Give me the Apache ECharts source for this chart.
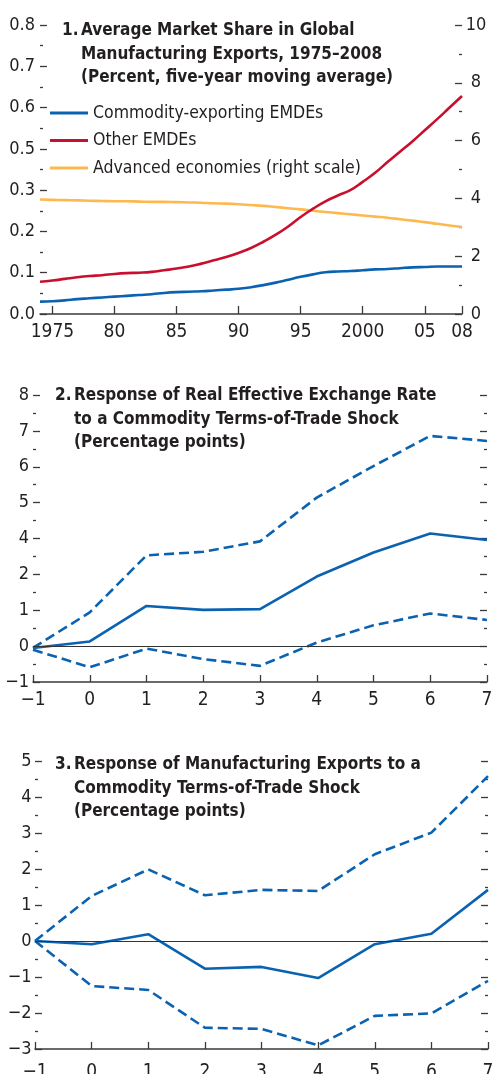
<!DOCTYPE html>
<html>
<head>
<meta charset="utf-8">
<script src="https://cdn.jsdelivr.net/npm/echarts@6/dist/echarts.min.js"></script>
<style>
  html, body { margin: 0; padding: 0; background: #fff; }
  #main { width: 492px; height: 1074px; }
</style>
</head>
<body>
<div id="main"></div>
<script>
// panel 1: market shares, 1974-2008
var years = [1974, 1975, 1976, 1977, 1978, 1979, 1980, 1981, 1982, 1983, 1984, 1985,
  1986, 1987, 1988, 1989, 1990, 1991, 1992, 1993, 1994, 1995, 1996, 1997, 1998, 1999,
  2000, 2001, 2002, 2003, 2004, 2005, 2006, 2007, 2008];
var commodityEMDEs = [0.030, 0.031, 0.033, 0.036, 0.038, 0.040, 0.042, 0.044, 0.046, 0.048,
  0.051, 0.053, 0.054, 0.055, 0.057, 0.059, 0.061, 0.065, 0.070, 0.076, 0.083, 0.090,
  0.096, 0.101, 0.103, 0.104, 0.106, 0.108, 0.109, 0.111, 0.113, 0.114, 0.115, 0.115, 0.115];
var otherEMDEs = [0.078, 0.081, 0.085, 0.089, 0.092, 0.094, 0.097, 0.099, 0.100, 0.102,
  0.106, 0.110, 0.115, 0.122, 0.130, 0.138, 0.148, 0.160, 0.175, 0.192, 0.212, 0.235,
  0.255, 0.273, 0.287, 0.300, 0.320, 0.342, 0.368, 0.393, 0.418, 0.445, 0.472, 0.500, 0.528];
var advancedEcon = [3.96, 3.95, 3.94, 3.93, 3.92, 3.91, 3.90, 3.90, 3.89, 3.88, 3.88, 3.87,
  3.86, 3.85, 3.83, 3.82, 3.80, 3.77, 3.74, 3.70, 3.66, 3.62, 3.57, 3.53, 3.49, 3.45,
  3.41, 3.37, 3.33, 3.28, 3.23, 3.18, 3.12, 3.06, 3.01];
var yearTicks = [1975, 1980, 1985, 1990, 1995, 2000, 2005, 2008];
var yearTickLabels = ['1975', '80', '85', '90', '95', '2000', '05', '08'];
var shareTickLabels = ['0.0', '0.1', '0.2', '0.3', '0.5', '0.6', '0.7', '0.8'];

// panels 2 and 3: impulse responses
var horizon = [-1, 0, 1, 2, 3, 4, 5, 6, 7];
var reerMid = [-0.05, 0.13, 1.12, 1.01, 1.03, 1.94, 2.61, 3.14, 2.96];
var reerUpper = [-0.05, 0.94, 2.53, 2.63, 2.92, 4.14, 5.02, 5.86, 5.72];
var reerLower = [-0.10, -0.59, -0.07, -0.36, -0.55, 0.10, 0.58, 0.91, 0.73];
var reerTickLabels = ['\u22121', '0', '1', '2', '4', '5', '6', '7', '8'];
var mfgMid = [0, -0.09, 0.19, -0.77, -0.72, -1.03, -0.09, 0.20, 1.42];
var mfgUpper = [0, 1.25, 1.99, 1.27, 1.42, 1.39, 2.41, 3.01, 4.58];
var mfgLower = [0, -1.25, -1.36, -2.41, -2.44, -2.90, -2.08, -2.01, -1.11];

var FONT = "'DejaVu Sans Condensed', 'Liberation Sans', sans-serif";
var INK = '#231f20';
var AXIS = '#3a3a3a';
var BLUE = '#0b62b0';
var RED = '#c8102e';
var GOLD = '#fdb850';

function pairs(xs, ys) {
  return xs.map(function (x, i) { return [x, ys[i]]; });
}
function minus(v) {
  return String(v).replace('-', '\u2212');
}

var myChart = echarts.init(document.getElementById('main'));

function majorTick(len) {
  return { show: true, inside: true, length: len, lineStyle: { color: AXIS, width: 1.3 } };
}
function minorTick() {
  return { show: true, splitNumber: 2, length: 3, lineStyle: { color: AXIS, width: 1.3 } };
}
// y axes keep an invisible line so they don't jump to x = 0
function hiddenLine() {
  return { show: true, onZero: false, lineStyle: { color: 'rgba(0,0,0,0)' } };
}

function leftAxis(grid, min, max, labels, margin) {
  return {
    type: 'value', gridIndex: grid, min: min, max: max, interval: 1,
    axisLine: hiddenLine(),
    axisTick: majorTick(7),
    minorTick: minorTick(),
    splitLine: { show: false },
    axisLabel: {
      margin: margin, color: INK, fontFamily: FONT, fontSize: 18,
      formatter: function (v) {
        return labels ? labels[Math.round(v - min)] : minus(v);
      }
    }
  };
}
function rightAxis(grid, min, max) {
  return {
    type: 'value', gridIndex: grid, position: 'right', min: min, max: max, interval: 1,
    axisLine: hiddenLine(),
    axisTick: majorTick(7),
    minorTick: minorTick(),
    splitLine: { show: false },
    axisLabel: { show: false }
  };
}
function horizonAxis(grid, margin) {
  return {
    type: 'value', gridIndex: grid, min: -1, max: 7, interval: 1,
    axisLine: { show: true, onZero: false, lineStyle: { color: AXIS, width: 1.5 } },
    axisTick: majorTick(7),
    splitLine: { show: false },
    axisLabel: {
      margin: margin, color: INK, fontFamily: FONT, fontSize: 19,
      formatter: function (v) { return minus(v); }
    }
  };
}
function band(name, grid, ys, dashed) {
  return {
    name: name, type: 'line', xAxisIndex: grid, yAxisIndex: grid === 1 ? 2 : 4,
    data: pairs(horizon, ys), symbol: 'none', smooth: false,
    lineStyle: { color: BLUE, width: 2.6, type: dashed ? [10, 5] : 'solid' }
  };
}
function zeroLine() {
  return {
    silent: true, symbol: 'none', label: { show: false },
    lineStyle: { color: '#333', width: 1, type: 'solid' },
    data: [{ yAxis: 0 }]
  };
}

function titleBlock(num, lines, numLeft, left, top) {
  var st = { color: INK, fontFamily: FONT, fontSize: 17, fontWeight: 'bold', lineHeight: 23.5 };
  return [
    { text: num, left: numLeft, top: top, padding: 0, textStyle: st },
    { text: lines.join('\n'), left: left, top: top, padding: 0, textStyle: st }
  ];
}

var option = {
  animation: false,
  backgroundColor: '#fff',
  title: [].concat(
    titleBlock('1.', ['Average Market Share in Global', 'Manufacturing Exports, 1975\u20132008',
      '(Percent, five-year moving average)'], 62, 81, 19),
    titleBlock('2.', ['Response of Real Effective Exchange Rate', 'to a Commodity Terms-of-Trade Shock',
      '(Percentage points)'], 55, 74, 384),
    titleBlock('3.', ['Response of Manufacturing Exports to a', 'Commodity Terms-of-Trade Shock',
      '(Percentage points)'], 55, 74, 753)
  ),
  legend: {
    data: ['Commodity-exporting EMDEs', 'Other EMDEs', 'Advanced economies (right scale)'],
    orient: 'vertical', left: 50, top: 102, padding: 0,
    icon: 'rect', itemWidth: 38, itemHeight: 3, itemGap: 5.5,
    textStyle: { color: INK, fontFamily: FONT, fontSize: 17.5, lineHeight: 22 }
  },
  grid: [
    { left: 40, top: 25, width: 422, height: 289, outerBoundsMode: 'none' },
    { left: 33, top: 395, width: 454, height: 287, outerBoundsMode: 'none' },
    { left: 35, top: 761, width: 453, height: 288, outerBoundsMode: 'none' }
  ],
  xAxis: [
    {
      type: 'value', gridIndex: 0, min: 1974, max: 2008,
      axisLine: { show: true, onZero: false, lineStyle: { color: AXIS, width: 1.5 } },
      axisTick: Object.assign(majorTick(8), { customValues: yearTicks }),
      splitLine: { show: false },
      axisLabel: {
        margin: 9, color: INK, fontFamily: FONT, fontSize: 19, customValues: yearTicks,
        formatter: function (v) { return yearTickLabels[yearTicks.indexOf(v)]; }
      }
    },
    horizonAxis(1, 9),
    horizonAxis(2, 14)
  ],
  yAxis: [
    {
      type: 'value', gridIndex: 0, min: 0, max: 0.7, interval: 0.1,
      axisLine: hiddenLine(),
      axisTick: majorTick(7),
      minorTick: minorTick(),
      splitLine: { show: false },
      axisLabel: {
        margin: 5, color: INK, fontFamily: FONT, fontSize: 18,
        formatter: function (v) { return shareTickLabels[Math.round(v * 10)]; }
      }
    },
    {
      type: 'value', gridIndex: 0, position: 'right', min: 0, max: 10, interval: 2,
      axisLine: hiddenLine(),
      axisTick: majorTick(7),
      minorTick: minorTick(),
      splitLine: { show: false },
      axisLabel: { margin: 14, align: 'center', color: INK, fontFamily: FONT, fontSize: 18 }
    },
    leftAxis(1, -1, 7, reerTickLabels, 4),
    rightAxis(1, -1, 7),
    leftAxis(2, -3, 5, null, 3.5),
    rightAxis(2, -3, 5)
  ],
  series: [
    {
      name: 'Advanced economies (right scale)', type: 'line', xAxisIndex: 0, yAxisIndex: 1,
      data: pairs(years, advancedEcon), symbol: 'none', smooth: true,
      itemStyle: { color: GOLD }, lineStyle: { color: GOLD, width: 2.6 }
    },
    {
      name: 'Commodity-exporting EMDEs', type: 'line', xAxisIndex: 0, yAxisIndex: 0,
      data: pairs(years, commodityEMDEs), symbol: 'none', smooth: true,
      itemStyle: { color: BLUE }, lineStyle: { color: BLUE, width: 2.6 }
    },
    {
      name: 'Other EMDEs', type: 'line', xAxisIndex: 0, yAxisIndex: 0,
      data: pairs(years, otherEMDEs), symbol: 'none', smooth: true,
      itemStyle: { color: RED }, lineStyle: { color: RED, width: 2.6 }
    },
    Object.assign(band('reer', 1, reerMid, false), { markLine: zeroLine() }),
    band('reerUp', 1, reerUpper, true),
    band('reerLo', 1, reerLower, true),
    Object.assign(band('mfg', 2, mfgMid, false), { markLine: zeroLine() }),
    band('mfgUp', 2, mfgUpper, true),
    band('mfgLo', 2, mfgLower, true)
  ]
};

myChart.setOption(option);
</script>
</body>
</html>
